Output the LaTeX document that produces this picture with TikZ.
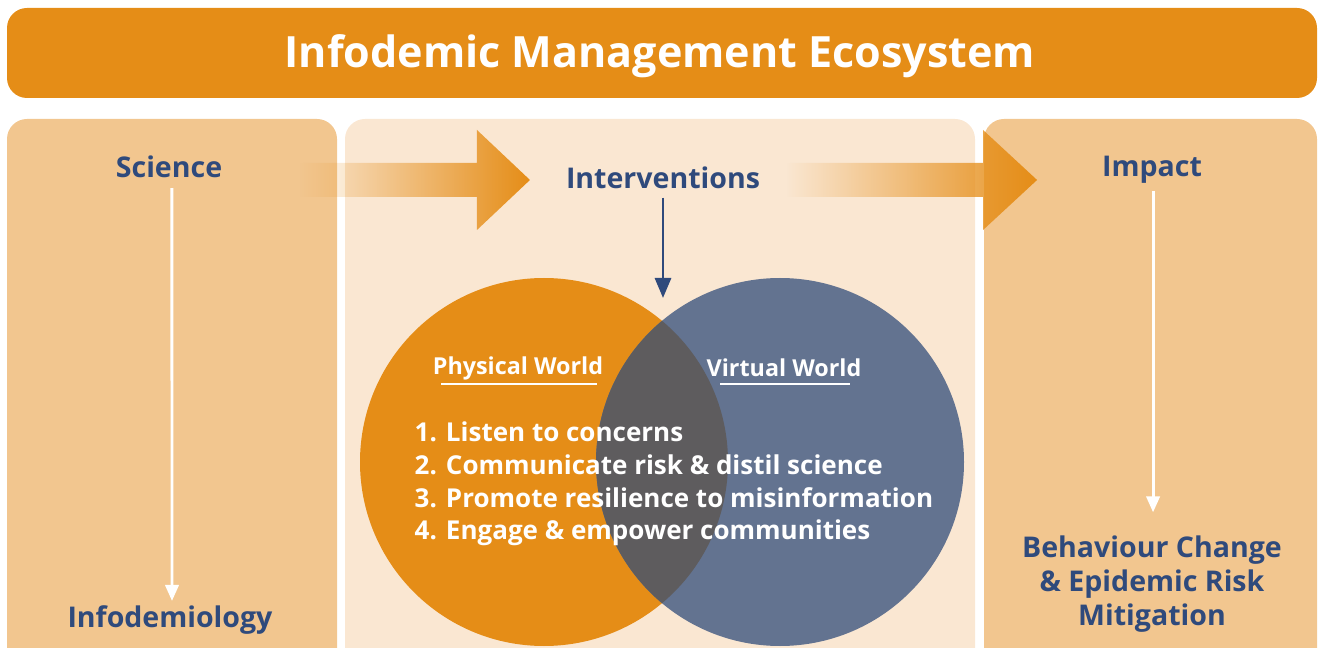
\documentclass[tikz,border=0pt]{standalone}
\usepackage{fontspec}
\setmainfont{Open Sans}
\usetikzlibrary{arrows.meta, positioning, fadings}
\definecolor{orangeD}{HTML}{E58D17}
\definecolor{panelD}{HTML}{F2C68F}
\definecolor{panelL}{HTML}{FAE7D2}
\definecolor{venBlue}{HTML}{637390}
\definecolor{lensGrey}{HTML}{5E5C5E}
\definecolor{navy}{HTML}{2F4A7C}
\tikzset{
  heading/.style={text=navy, font=\fontsize{21.4}{25.5}\selectfont\bfseries, align=center},
  worldlabel/.style={text=white, font=\fontsize{17.5}{20}\selectfont\bfseries},
  listtext/.style={text=white, font=\fontsize{19.5}{24.4}\selectfont\bfseries, align=left},
  whitearrow/.style={draw=white, line width=2.2pt, -{Triangle[width=10pt, length=12pt]}},
  navyarrow/.style={draw=navy, line width=2.2pt, -{Triangle[width=12pt, length=15pt]}},
  bigarrow/.style={fill=orangeD, path fading=west}
}
\begin{document}
\begin{tikzpicture}[x=0.75pt, y=-0.75pt]
    \useasboundingbox (0,0) rectangle (1318,648);

    % --- Fondo: barra de titulo y columnas ---
    \begin{scope}
        \clip (0,0) rectangle (1318,648);
        \fill[orangeD, rounded corners=15pt] (7,8) rectangle (1317,98);
        \fill[panelD, rounded corners=15pt] (7,119) rectangle (337,700);
        \fill[panelL, rounded corners=15pt] (345,119) rectangle (975,700);
        \fill[panelD, rounded corners=15pt] (984,119) rectangle (1317,700);
    \end{scope}

    % --- Flechas anchas con degradado ---
    \fill[bigarrow] (300,163) -- (477,163) -- (477,130) -- (530,180) -- (477,230) -- (477,197) -- (300,197) -- cycle;
    \fill[bigarrow] (787,163) -- (983,163) -- (983,130) -- (1037,180) -- (983,230) -- (983,197) -- (787,197) -- cycle;

    % --- Diagrama de Venn ---
    \fill[orangeD] (544,462) circle[radius=138pt];
    \fill[venBlue] (780,462) circle[radius=138pt];
    \begin{scope}
        \clip (544,462) circle[radius=138pt];
        \fill[lensGrey] (780,462) circle[radius=138pt];
    \end{scope}

    % --- Titulo ---
    \node[text=white, font=\fontsize{32.3}{36}\selectfont\bfseries] (title) at (660,56) {Infodemic Management Ecosystem};

    % --- Columnas ---
    \node[heading] (science) at (169,167) {Science};
    \node[heading] (infodem) at (170,620) {Infodemiology};
    \node[heading] (interv) at (663,178) {Interventions};
    \node[heading] (impact) at (1152,170) {Impact};
    \node[heading] (behaviour) at (1152,584) {Behaviour Change\\\& Epidemic Risk\\Mitigation};
    \coordinate (venntop) at (663,298);

    % --- Etiquetas del Venn ---
    \node[worldlabel] (physical) at (518,368) {Physical World};
    \node[worldlabel] (virtual) at (784,368) {Virtual World};
    \draw[white, line width=1.5pt] (441,384) -- (597,384);
    \draw[white, line width=1.5pt] (720,384) -- (850,384);

    \node[listtext, anchor=west] (steps) at (410,484) {1. Listen to concerns\\
        2. Communicate risk \& distil science\\
        3. Promote resilience to misinformation\\
        4. Engage \& empower communities};

    % ================= FLECHAS =================
    \draw[whitearrow, shorten <=4pt] ([xshift=2.2pt]science.south) -- ([xshift=1.5pt]infodem.north);
    \draw[whitearrow, shorten <=2pt, shorten >=14pt] ([xshift=0.8pt]impact.south) -- ([xshift=0.8pt]behaviour.north);
    \draw[navyarrow, shorten <=3pt] (interv) -- (venntop);

\end{tikzpicture}
\end{document}
